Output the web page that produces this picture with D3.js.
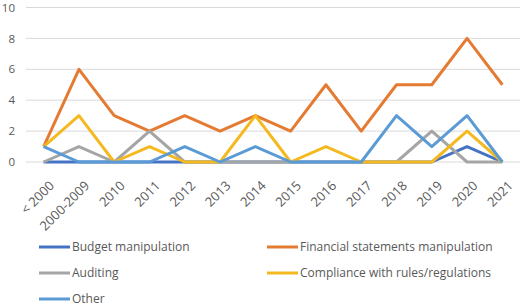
<!DOCTYPE html>
<html>
<head>
<meta charset="utf-8">
<script src="https://cdn.jsdelivr.net/npm/d3@7"></script>
<style>
  body { margin: 0; background: #fff; }
  text { font-family: "Open Sans", "Liberation Sans", sans-serif; fill: #595959; }
</style>
</head>
<body>
<div id="chart"></div>
<script>
const w = 520;
const h = 307;

const categories = ["< 2000", "2000-2009", "2010", "2011", "2012", "2013", "2014",
  "2015", "2016", "2017", "2018", "2019", "2020", "2021"];
const yTicks = [0, 2, 4, 6, 8, 10];

const budget     = [0, 0, 0, 0, 0, 0, 0, 0, 0, 0, 0, 0, 1, 0];
const financial  = [1, 6, 3, 2, 3, 2, 3, 2, 5, 2, 5, 5, 8, 5];
const auditing   = [0, 1, 0, 2, 0, 0, 0, 0, 0, 0, 0, 2, 0, 0];
const compliance = [1, 3, 0, 1, 0, 0, 3, 0, 1, 0, 0, 0, 2, 0];
const other      = [1, 0, 0, 0, 1, 0, 1, 0, 0, 0, 3, 1, 3, 0];

const series = [
  { name: "Budget manipulation", values: budget, color: "#4472C4" },
  { name: "Financial statements manipulation", values: financial, color: "#E57B33" },
  { name: "Auditing", values: auditing, color: "#A5A5A5" },
  { name: "Compliance with rules/regulations", values: compliance, color: "#F5B920" },
  { name: "Other", values: other, color: "#5B9BD5" }
];

const svg = d3.select("#chart").append("svg")
  .attr("width", w)
  .attr("height", h);

const x = d3.scaleBand().domain(categories).range([26, 520]);
const y = d3.scaleLinear().domain([0, 10]).range([162, 7.5]);

// gridlines
svg.append("g")
  .selectAll("line")
  .data(yTicks)
  .join("line")
  .attr("x1", 26)
  .attr("x2", 520)
  .attr("y1", d => y(d))
  .attr("y2", d => y(d))
  .attr("stroke", "#D9D9D9")
  .attr("stroke-width", 1);

// y axis labels
const yAxis = svg.append("g")
  .attr("transform", "translate(15,0)")
  .call(d3.axisLeft(y).tickValues(yTicks).tickSize(0).tickPadding(0));
yAxis.select(".domain").remove();
yAxis.selectAll("text").style("font-size", "11.5px").attr("fill", "#595959");

// x axis labels
const xAxis = svg.append("g")
  .attr("transform", "translate(0,168)")
  .call(d3.axisBottom(x).tickSize(0).tickPadding(0));
xAxis.select(".domain").remove();
xAxis.selectAll("text")
  .style("font-size", "13px")
  .attr("fill", "#595959")
  .attr("text-anchor", "end")
  .attr("dy", "0.7em")
  .attr("transform", "translate(5,12) rotate(-45)");

const line = d3.line()
  .x((d, i) => x(categories[i]) + x.bandwidth() / 2)
  .y(d => y(d));

svg.append("g")
  .selectAll("path")
  .data(series)
  .join("path")
  .attr("d", d => line(d.values))
  .attr("fill", "none")
  .attr("stroke", d => d.color)
  .attr("stroke-width", 3)
  .attr("stroke-linejoin", "round");

// legend
const legendPos = [[39, 247], [267, 247], [39, 273], [267, 273], [39, 299]];
const legend = svg.append("g")
  .selectAll("g")
  .data(series)
  .join("g")
  .attr("transform", (d, i) => `translate(${legendPos[i][0]},${legendPos[i][1]})`);

legend.append("line")
  .attr("x1", 0).attr("x2", 31)
  .attr("stroke", d => d.color)
  .attr("stroke-width", 3);

legend.append("text")
  .attr("x", 33)
  .attr("dy", "0.35em")
  .style("font-size", "12px")
  .text(d => d.name);
</script>
</body>
</html>
